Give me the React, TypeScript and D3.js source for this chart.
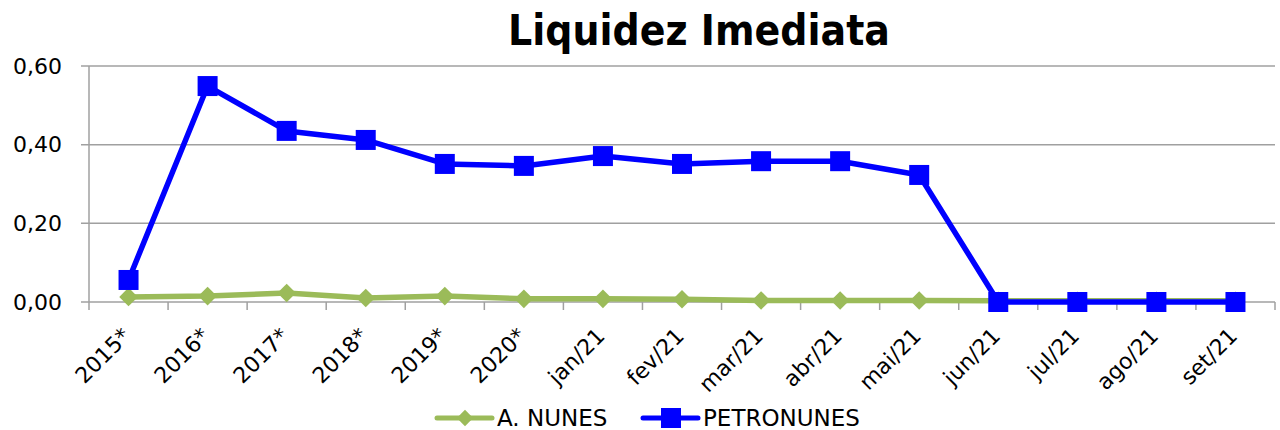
import React, { useEffect, useRef } from 'react';
import * as d3 from 'd3';

const categories = ["2015*", "2016*", "2017*", "2018*", "2019*", "2020*", "jan/21", "fev/21", "mar/21", "abr/21", "mai/21", "jun/21", "jul/21", "ago/21", "set/21"];
const aNunes = [0.013, 0.015, 0.023, 0.010, 0.015, 0.008, 0.008, 0.007, 0.004, 0.004, 0.004, 0.003, 0.003, 0.003, 0.003];
const petronunes = [0.056, 0.549, 0.435, 0.412, 0.351, 0.346, 0.371, 0.351, 0.358, 0.358, 0.323, 0.0, 0.0, 0.0, 0.0];
const yTicks = [0, 0.2, 0.4, 0.6];

const FONT = "'DejaVu Sans', sans-serif";

export default function App() {
  const svgRef = useRef<SVGSVGElement>(null);

  const W = 1280;
  const H = 430;
  const MARGIN = { top: 66, right: 5, bottom: 128, left: 89 };

  useEffect(() => {
    const svg = d3.select(svgRef.current);
    svg.selectAll("*").remove();

    const x = d3.scaleBand().domain(categories).range([MARGIN.left, W - MARGIN.right]);
    const y = d3.scaleLinear().domain([0, 0.6]).range([H - MARGIN.bottom, MARGIN.top]);
    const fmt = (v: number) => d3.format(".2f")(v).replace(".", ",");

    // gridlines
    svg.append("g").selectAll("line").data(yTicks).join("line")
      .attr("x1", MARGIN.left - 8).attr("x2", W - MARGIN.right)
      .attr("y1", d => y(d)).attr("y2", d => y(d))
      .attr("stroke", "#a0a0a0").attr("stroke-width", 1.5);

    // y axis line
    svg.append("line")
      .attr("x1", MARGIN.left).attr("x2", MARGIN.left)
      .attr("y1", MARGIN.top).attr("y2", y(0) + 8)
      .attr("stroke", "#a0a0a0").attr("stroke-width", 1.5);

    // x tick marks
    const bounds = categories.map(c => x(c) as number).concat([W - MARGIN.right]);
    svg.append("g").selectAll("line").data(bounds.slice(1)).join("line")
      .attr("x1", d => d).attr("x2", d => d)
      .attr("y1", y(0)).attr("y2", y(0) + 8)
      .attr("stroke", "#a0a0a0").attr("stroke-width", 1.5);

    // y labels
    svg.append("g").selectAll("text").data(yTicks).join("text")
      .attr("x", 62).attr("y", d => y(d))
      .attr("text-anchor", "end").attr("dominant-baseline", "central")
      .style("font-family", FONT).style("font-size", "22px").style("fill", "#000")
      .text(d => fmt(d));

    // x labels
    svg.append("g").selectAll("text").data(categories).join("text")
      .attr("transform", d => `translate(${(x(d) as number) + x.bandwidth() / 2 - 2},${y(0) + 30}) rotate(-45)`)
      .attr("text-anchor", "end").attr("dominant-baseline", "central")
      .style("font-family", FONT).style("font-size", "22px").style("fill", "#000")
      .text(d => d);

    const cx = (i: number) => (x(categories[i]) as number) + x.bandwidth() / 2;
    const line = d3.line<number>().x((d, i) => cx(i)).y(d => y(d));

    // A. NUNES
    svg.append("path").datum(aNunes)
      .attr("d", line).attr("fill", "none")
      .attr("stroke", "#9bbb59").attr("stroke-width", 5.5).attr("stroke-linejoin", "round");
    svg.append("g").selectAll("path").data(aNunes).join("path")
      .attr("d", d3.symbol(d3.symbolDiamond2, 220))
      .attr("transform", (d, i) => `translate(${cx(i)},${y(d)})`)
      .attr("fill", "#9bbb59");

    // PETRONUNES
    svg.append("path").datum(petronunes)
      .attr("d", line).attr("fill", "none")
      .attr("stroke", "#0000ff").attr("stroke-width", 5.5).attr("stroke-linejoin", "round");
    svg.append("g").selectAll("rect").data(petronunes).join("rect")
      .attr("x", (d, i) => cx(i) - 10).attr("y", d => y(d) - 10)
      .attr("width", 20).attr("height", 20)
      .attr("fill", "#0000ff");

    // title
    svg.append("text")
      .attr("x", 699).attr("y", 45)
      .attr("text-anchor", "middle")
      .attr("textLength", 382).attr("lengthAdjust", "spacingAndGlyphs")
      .style("font-family", FONT).style("font-size", "42px").style("font-weight", "700")
      .text("Liquidez Imediata");

    // legend
    const legend = [
      { name: "A. NUNES", color: "#9bbb59", x0: 437, shape: "diamond" },
      { name: "PETRONUNES", color: "#0000ff", x0: 643, shape: "square" },
    ];
    const ly = 418;
    legend.forEach(l => {
      svg.append("line")
        .attr("x1", l.x0).attr("x2", l.x0 + 55).attr("y1", ly).attr("y2", ly)
        .attr("stroke", l.color).attr("stroke-width", 5).attr("stroke-linecap", "round");
      if (l.shape === "diamond") {
        svg.append("path").attr("d", d3.symbol(d3.symbolDiamond2, 170))
          .attr("transform", `translate(${l.x0 + 28},${ly})`).attr("fill", l.color);
      } else {
        svg.append("rect").attr("x", l.x0 + 18).attr("y", ly - 10)
          .attr("width", 20).attr("height", 20).attr("fill", l.color);
      }
      svg.append("text")
        .attr("x", l.x0 + 60).attr("y", ly).attr("dominant-baseline", "central")
        .style("font-family", FONT).style("font-size", "23px")
        .text(l.name);
    });
  }, []);

  return (
    <svg ref={svgRef} width={W} height={H} style={{ position: "absolute", left: 0, top: 0, background: "#fff" }} />
  );
}
